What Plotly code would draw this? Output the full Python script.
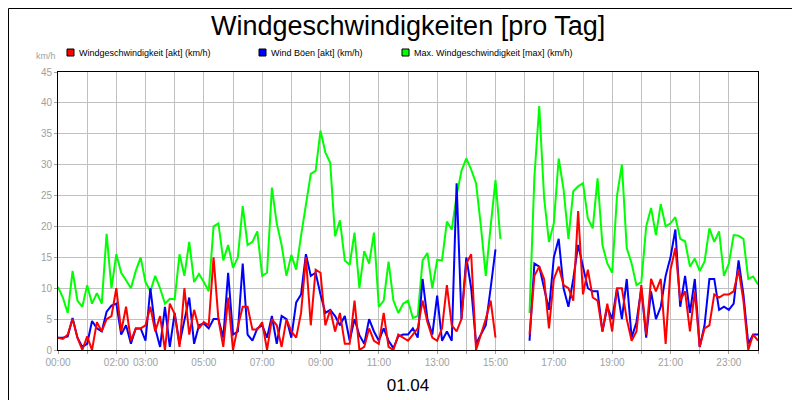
import plotly.graph_objects as go

N = None
minutes = list(range(0, 1441, 10))

max_wind = [10.2, 8.5, 6, 12.8, 8, 7, 10.5, 7.5, 9.2, 7.5, 18.8, 10, 15.5, 12.5, 11.3, 10, 12.8, 15, 11, 9.5, 12, 10, 7.5, 8.3,
            8.2, 15.5, 12, 17.5, 11, 12.3, 11, 9.5, 20, 20.5, 14.5, 17, 13.3, 15, 23.3, 17, 17.5, 19.2, 12, 12.5, 26.3, 20.5, 17, 12,
            15.4, 13, 18.5, 23.5, 28.5, 29, 35.5, 32, 30.3, 18.4, 21, 14.5, 13.8, 19, 10, 16, 14, 19, 7, 8, 14.3, 8, 6, 7.5,
            8, 5.2, 5.5, 14.5, 15.7, 10, 14.6, 14.5, 20.8, 19.5, 25, 29, 31, 29.2, 27, 20, 12, 20, 27.5, 18, N, N, N, N,
            N, 6, 28, 39.5, 24.6, 17.5, 20.5, 31, 26, 18, 25.7, 26.5, 27, 21.3, 19.7, 27.8, 17, 14, 12.5, 25, 30, 16.5, 14, 10.5,
            11, 20, 23, 18.6, 23.6, 20, 20.5, 21.5, 18, 17.6, 13.5, 14.8, 12.8, 14.3, 19.7, 17.5, 19.2, 12, 14, 18.6, 18.5, 18, 11.5, 11.9,
            10.6]
gust = [2, 2, 2.2, 5.2, 2, 0.5, 1, 4.7, 3.5, 3, 6.2, 7.2, 7.5, 2.5, 4, 1, 3.5, 3.5, 1.5, 10, 3.5, 0.5, 7, 0.5,
        6, 1, 4.8, 8.5, 1, 4, 4.3, 3.5, 5, 5, 2, 12.5, 2.5, 3, 14, 2.5, 1.5, 3.5, 4, 2, 5.5, 1, 5.5, 5,
        2, 7.7, 9, 15.5, 12, 12.5, 9, 6, 6.5, 5.5, 4, 5.5, 1.5, 5, 2.4, 1, 5, 3, 1.5, 3.5, 1.5, 0.3, 2.2, 2.5,
        2.5, 3.5, 2, 11.5, 5, 2.5, 8.8, 1.5, 3, 1.5, 27, 5, 15, 10, 1, 2.5, 4, 10, 16.3, N, N, N, N, N,
        N, 1.5, 14, 13.5, 10, 6.5, 15, 18, 10, 7, 11.5, 17, 13.5, 10, 9.5, 9.5, 3, 7, 5, 10, 5, 11.5, 2, 4.5,
        10, 2, 9.5, 5, 7, 12, 15, 19.5, 7, 12, 6, 11.5, 0.5, 4, 11.5, 11.5, 6.5, 7, 6.5, 7.5, 14.5, 9, 1, 2.5,
        2.5]
wind = [2, 1.8, 2.5, 5, 2, 0, 2.2, 0, 4.5, 3, 5, 5.5, 10, 3, 7, 1.5, 3.5, 3.5, 4, 7, 3, 5.5, 0, 7.5,
        5.8, 0.5, 10, 2.5, 6.5, 3.5, 4.5, 4, 15, 5, 0.5, 8.5, 0, 3.8, 7, 7, 3.3, 3.3, 4.5, 0, 5, 4, 0.5, 5,
        3, 2, 6, 15, 4, 13, 12.5, 4, 6.5, 3, 6, 1, 1, 8, 0, 0.5, 3.5, 1.5, 1, 6, 0.5, 0, 2.5, 2,
        1.5, 2.5, 3.5, 8, 4.5, 2, 1.5, 3.5, 10.5, 4, 3, 5, 14, 15.5, 0, 2.5, 5, 8, 2, N, N, N, N, N,
        N, 2.5, 12, 13.5, 11.5, 3.5, 11.5, 13.5, 10.5, 10, 8, 22.5, 9, 13, 8.5, 8, 3, 7.5, 3, 10, 10, 5, 1.5, 3,
        10.5, 2.5, 11.5, 9.5, 11.5, 1, 13, 16.5, 8, 9.5, 3, 9.5, 0.5, 3.5, 4, 9, 8.5, 9, 9, 9.5, 13, 8, 0, 2.5,
        1.5]

hour_vals = list(range(0, 1441, 60))
shown = {0, 2, 3, 5, 7, 9, 11, 13, 15, 17, 19, 21, 23}
hour_text = [f"{h:02d}:00" if h in shown else "" for h in range(25)]

legend_names = ["Windgeschwindigkeit [akt] (km/h)", "Wind Böen [akt] (km/h)", "Max. Windgeschwindigkeit [max] (km/h)"]
legend_colors = ["#ff0000", "#0000ff", "#00ff00"]
legend_px = [59, 251, 394]

W, H = 700, 278
def px(x): return (x - 50) / W
def py(y): return (342 - y) / H

fig = go.Figure()
for vals, col in [(max_wind, "#00ff00"), (gust, "#0000ff"), (wind, "#ff0000")]:
    fig.add_trace(go.Scatter(x=minutes, y=vals, mode="lines", line=dict(color=col, width=2),
                             showlegend=False, connectgaps=False))

shapes = [dict(type="rect", xref="paper", yref="paper", x0=px(0.5), x1=px(799.5), y0=py(399.5), y1=py(0.5),
               line=dict(color="black", width=1))]
annotations = [dict(text="km/h", x=px(26), y=py(48), xref="paper", yref="paper", showarrow=False,
                    xanchor="left", yanchor="middle", font=dict(size=9, color="#a0a0a0")),
               dict(text="Windgeschwindigkeiten [pro Tag]", x=0.5, y=py(18), xref="paper", yref="paper",
                    showarrow=False, xanchor="center", yanchor="middle", font=dict(size=27, color="black"))]
for name, col, lx in zip(legend_names, legend_colors, legend_px):
    shapes.append(dict(type="rect", xref="paper", yref="paper", x0=px(lx), x1=px(lx + 7),
                       y0=py(48), y1=py(41), fillcolor=col, line=dict(color="black", width=1)))
    annotations.append(dict(text=name, x=px(lx + 10), y=py(44.5), xref="paper", yref="paper",
                            showarrow=False, xanchor="left", yanchor="middle", font=dict(size=9, color="black")))

fig.update_layout(
    width=800, height=400, paper_bgcolor="white", plot_bgcolor="white",
    margin=dict(l=50, r=50, t=64, b=58, autoexpand=False),
    font=dict(family="Liberation Sans, Arial", color="black"),
    showlegend=False,
    xaxis=dict(range=[0, 1440], tickvals=hour_vals, ticktext=hour_text, showgrid=True, automargin=False,
               gridcolor="#c0c0c0", gridwidth=1, tickfont=dict(size=10, color="#a0a0a0"),
               showline=True, linecolor="black", mirror=True, zeroline=False, ticks="outside",
               ticklen=3, tickcolor="#a0a0a0",
               title=dict(text="01.04", font=dict(size=17, color="black"), standoff=12)),
    yaxis=dict(range=[0, 45], dtick=5, showgrid=True, gridcolor="#c0c0c0", automargin=False,
               tickfont=dict(size=10, color="#a0a0a0"), showline=True, linecolor="black",
               mirror=True, zeroline=False, ticks="outside", ticklen=3, tickcolor="#a0a0a0"),
    annotations=annotations,
    shapes=shapes,
)
fig.write_html("out.html")
